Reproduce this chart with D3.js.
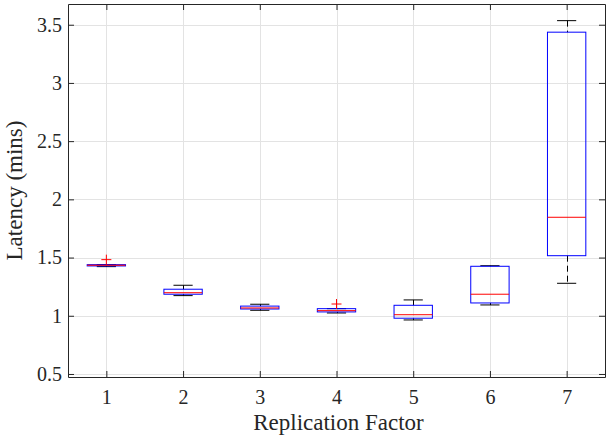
<!DOCTYPE html>
<html>
<head>
<meta charset="utf-8">
<script src="https://cdn.jsdelivr.net/npm/d3@7"></script>
<style>
  body { margin: 0; background: #fff; }
  svg { display: block; }
</style>
</head>
<body>
<svg id="chart"></svg>
<script>
const width = 606;
const height = 437;
const margin = {top: 4, right: 1, bottom: 60, left: 68};

// replication factors
const factors = [1, 2, 3, 4, 5, 6, 7];
// box stats (latency, mins)
const lowerWhisker = [1.422, 1.173, 1.047, 1.024, 0.964, 1.093, 1.279];
const q1 = [1.428, 1.185, 1.058, 1.033, 0.979, 1.110, 1.516];
const median = [1.434, 1.198, 1.067, 1.044, 1.009, 1.185, 1.846];
const q3 = [1.439, 1.228, 1.083, 1.061, 1.090, 1.425, 3.436];
const upperWhisker = [1.440, 1.262, 1.099, 1.061, 1.136, 1.430, 3.535];
// outliers: [factor, value]
const outliers = [[1, 1.482], [4, 1.101]];

const yTicks = [0.5, 1, 1.5, 2, 2.5, 3, 3.5];

const boxes = factors.map((f, i) => ({
    f, lo: lowerWhisker[i], q1: q1[i], med: median[i], q3: q3[i], hi: upperWhisker[i]
}));

const x = d3.scaleLinear()
    .domain([0.5, 7.5])
    .range([margin.left, width - margin.right]);

const y = d3.scaleLinear()
    .domain([0.474, 3.678])
    .range([height - margin.bottom, margin.top]);

const svg = d3.select('#chart')
    .attr('width', width)
    .attr('height', height);

const axisColor = '#262626';
const serif = '"Liberation Serif"';

// grid
svg.append('g')
    .selectAll('line')
    .data(factors)
    .join('line')
        .attr('x1', (d) => Math.round(x(d)) + 0.5)
        .attr('x2', (d) => Math.round(x(d)) + 0.5)
        .attr('y1', y.range()[1])
        .attr('y2', y.range()[0])
        .attr('stroke', '#e3e3e3');

svg.append('g')
    .selectAll('line')
    .data(yTicks)
    .join('line')
        .attr('x1', x.range()[0])
        .attr('x2', x.range()[1])
        .attr('y1', (d) => Math.round(y(d)) + 0.5)
        .attr('y2', (d) => Math.round(y(d)) + 0.5)
        .attr('stroke', '#e3e3e3');

// boxes
const g = svg.append('g');
const capW = 0.125;
const boxW = 0.25;

const bx = g.selectAll('g.box')
    .data(boxes)
    .join('g')
        .attr('class', 'box');

// dashed whiskers
bx.append('line')
    .attr('x1', (d) => Math.round(x(d.f)) + 0.5)
    .attr('x2', (d) => Math.round(x(d.f)) + 0.5)
    .attr('y1', (d) => y(d.hi))
    .attr('y2', (d) => y(d.q3))
    .attr('stroke', '#000')
    .attr('stroke-dasharray', '6,4');

bx.append('line')
    .attr('x1', (d) => Math.round(x(d.f)) + 0.5)
    .attr('x2', (d) => Math.round(x(d.f)) + 0.5)
    .attr('y1', (d) => y(d.q1))
    .attr('y2', (d) => y(d.lo))
    .attr('stroke', '#000')
    .attr('stroke-dasharray', '6,4');

// caps
bx.append('line')
    .attr('x1', (d) => x(d.f - capW))
    .attr('x2', (d) => x(d.f + capW))
    .attr('y1', (d) => y(d.hi))
    .attr('y2', (d) => y(d.hi))
    .attr('stroke', '#000');

bx.append('line')
    .attr('x1', (d) => x(d.f - capW))
    .attr('x2', (d) => x(d.f + capW))
    .attr('y1', (d) => y(d.lo))
    .attr('y2', (d) => y(d.lo))
    .attr('stroke', '#000');

// box
bx.append('rect')
    .attr('x', (d) => x(d.f - boxW))
    .attr('width', (d) => x(d.f + boxW) - x(d.f - boxW))
    .attr('y', (d) => y(d.q3))
    .attr('height', (d) => Math.max(1, y(d.q1) - y(d.q3)))
    .attr('fill', 'none')
    .attr('stroke', '#0000ff');

// median
bx.append('line')
    .attr('x1', (d) => x(d.f - boxW))
    .attr('x2', (d) => x(d.f + boxW))
    .attr('y1', (d) => y(d.med))
    .attr('y2', (d) => y(d.med))
    .attr('stroke', '#ff0000');

// outliers
const plus = 5;
const out = g.selectAll('g.out')
    .data(outliers)
    .join('g')
        .attr('class', 'out')
        .attr('transform', (d) => `translate(${x(d[0])}, ${y(d[1])})`);
out.append('line')
    .attr('x1', -plus).attr('x2', plus)
    .attr('stroke', '#ff0000');
out.append('line')
    .attr('y1', -plus).attr('y2', plus)
    .attr('stroke', '#ff0000');

// axes (ticks inward, box on)
const xAxis = d3.axisBottom(x)
    .tickValues(factors)
    .tickFormat(d3.format('d'))
    .tickSize(-6)
    .tickSizeOuter(0)
    .tickPadding(13);

const yAxis = d3.axisLeft(y)
    .tickValues(yTicks)
    .tickFormat((d) => String(d))
    .tickSize(-6)
    .tickSizeOuter(0)
    .tickPadding(6);

svg.append('g')
    .attr('transform', `translate(0, ${height - margin.bottom})`)
    .call(xAxis);

svg.append('g')
    .attr('transform', `translate(${margin.left}, 0)`)
    .call(yAxis);

svg.append('g')
    .attr('transform', `translate(0, ${margin.top})`)
    .call(d3.axisTop(x).tickValues(factors).tickFormat('').tickSize(-6).tickSizeOuter(0));

svg.append('g')
    .attr('transform', `translate(${width - margin.right}, 0)`)
    .call(d3.axisRight(y).tickValues(yTicks).tickFormat('').tickSize(-6).tickSizeOuter(0));

svg.selectAll('.domain, .tick line')
    .attr('stroke', axisColor);

svg.selectAll('.tick text')
    .attr('fill', axisColor)
    .style('font-family', serif)
    .style('font-size', '20px');

// axis labels
svg.append('text')
    .attr('x', (x.range()[0] + x.range()[1]) / 2 + 2)
    .attr('y', 430)
    .style('font-family', serif)
    .style('font-size', '23px')
    .style('text-anchor', 'middle')
    .attr('fill', axisColor)
    .text('Replication Factor');

svg.append('text')
    .attr('transform', 'rotate(-90)')
    .attr('x', - (y.range()[0] + y.range()[1]) / 2)
    .attr('y', 22)
    .style('font-family', serif)
    .style('font-size', '23px')
    .style('text-anchor', 'middle')
    .attr('fill', axisColor)
    .text('Latency (mins)');
</script>
</body>
</html>
